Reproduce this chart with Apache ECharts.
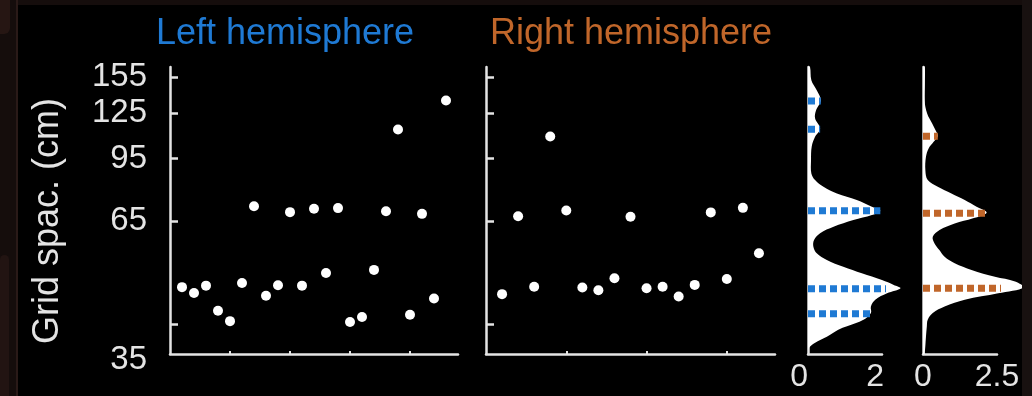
<!DOCTYPE html>
<html><head><meta charset="utf-8">
<script src="https://cdn.jsdelivr.net/npm/echarts@6/dist/echarts.min.js"></script>
<style>html,body{margin:0;padding:0;background:#000;}#c{width:1032px;height:396px;}</style>
</head><body><div id="c"></div>
<script>
// ---- data ----
const leftIndex = [1,2,3,4,5,6,7,8,9,10,11,12,13,14,15,16,17,18,19,20,21,22,23];
const leftSpacing = [43.7,42.2,44.1,37.9,35.6,44.8,71.2,41.5,44.2,68.7,44.1,70.1,47.6,70.4,35.4,36.5,48.5,69.1,113.1,37.0,68.0,40.8,134.7];
const rightIndex = [1,2,3,4,5,6,7,8,9,10,11,12,13,14,15,16,17];
const rightSpacing = [41.9,67.0,43.8,108.4,69.4,43.6,42.9,46.1,66.8,43.4,43.8,41.3,44.3,68.6,45.9,70.5,53.6];

const densLeftSpacing = [29.2,30.3,31.2,32.4,33.8,34.5,35.9,37.4,38.9,40.5,42.1,43.4,44.3,45.6,47.5,49.4,51.5,53.6,55.8,58.1,60.5,62.9,65.5,67.5,69.3,71.0,73.9,76.9,80.1,83.4,86.8,94.0,101.9,108.2,113.8,121.1,127.1,135.0,143.4,152.3,164.9];
const densLeft = [0,0.03,0.2,0.56,0.9,1.16,1.65,1.87,1.87,2.0,2.35,2.75,2.55,2.2,1.6,1.05,0.56,0.26,0.16,0.18,0.36,0.76,1.35,1.9,2.15,1.9,1.45,0.86,0.46,0.21,0.1,0.09,0.11,0.21,0.36,0.21,0.24,0.38,0.26,0.1,0.06];
const densRightSpacing = [29.2,32.4,34.5,35.9,37.4,38.9,40.5,42.1,43.6,45.2,46.5,48.5,50.5,52.5,54.6,56.9,59.2,61.7,64.2,66.2,68.5,71.0,73.9,76.9,80.1,83.4,88.5,95.9,100.9,105.0,108.6,111.5,117.3,124.6,135.0,149.3,164.9];
const densRight = [0.05,0.1,0.13,0.16,0.33,0.73,1.41,2.54,3.4,3.11,2.43,1.64,1.07,0.73,0.56,0.39,0.33,0.56,1.07,1.69,2.15,1.81,1.41,0.96,0.5,0.16,0.08,0.1,0.19,0.36,0.5,0.45,0.31,0.14,0.05,0.06,0.06];

const peaksLeftSpacing = [37.2,43.3,69.3,113.3,134.3];
const peaksLeftDensity = [1.9,2.75,2.15,0.36,0.38];
const peaksRightSpacing = [43.4,68.2,108.6];
const peaksRightDensity = [3.3,2.15,0.5];

const yTickValues = [35,65,95,125,155];
const yTickLabels = ['35','65','95','125','155'];
const yMin = 29.2, yMax = 164.9;
const xTicks = [5,10,15,20];
const densLeftLabels = [0,2];
const densRightLabels = [0,2.5];

const BLUE = '#1f7ad4', BROWN = '#c0662a', AX = '#e4e4e4';
const FONT = 'Liberation Sans, Arial, sans-serif';

const chart = echarts.init(document.getElementById('c'), null, {renderer:'canvas'});

function yAx(gi, showLabels){
  return {
    type:'log', gridIndex:gi, min:yMin, max:yMax, logBase:10,
    axisLine:{show:true, onZero:false, lineStyle:{color:AX, width:2.5}},
    axisTick:{show:gi<2, inside:true, length:8, customValues:yTickValues, lineStyle:{color:AX, width:2.5}},
    axisLabel:{show:showLabels, customValues:[29.35,65,95,125,155], margin:23,
      color:AX, fontSize:33, fontFamily:FONT,
      rich:{lo:{fontSize:33, fontFamily:FONT, color:AX, padding:[14,0,0,0]}},
      formatter:function(v){ if (v < 34) return '{lo|' + yTickLabels[0] + '}'; const i = yTickValues.indexOf(Math.round(v)); return i>=0 ? yTickLabels[i] : ''; }},
    splitLine:{show:false}
  };
}
function xAx(gi, max, ticks, labels){
  return {
    type:'value', gridIndex:gi, min:0, max:max,
    axisLine:{show:true, onZero:false, lineStyle:{color:AX, width:2.5}},
    axisTick:{show:!!ticks, inside:true, length:3, customValues:ticks||[], lineStyle:{color:AX, width:2}},
    axisLabel:{show:!!labels, customValues:labels||[], color:AX, fontSize:32, fontFamily:FONT, margin:7,
      alignMinLabel: gi===2 ? 'right' : 'center',
      formatter:function(v){ return String(v); }},
    splitLine:{show:false}
  };
}
function densitySeries(gi, spacing, dens){
  const data = spacing.map((s,i)=>[dens[i], s]);
  return {
    type:'custom', xAxisIndex:gi, yAxisIndex:gi, data:data, clip:false, z:2, silent:true,
    encode:{x:0, y:1},
    renderItem:function(params, api){
      if (params.dataIndex !== 0) return null;
      const start = api.coord([0, spacing[0]]);
      const pts = [start];
      data.forEach(d => pts.push(api.coord(d)));
      pts.push(api.coord([0, spacing[spacing.length-1]]));
      return {type:'polygon', shape:{points:pts, smooth:0.35, smoothConstraint:[[start[0],0],[3000,3000]]},
        style:{fill:'#ffffff', stroke:null}};
    }
  };
}
function peakSeries(gi, spacing, dens, color){
  return spacing.map((s,i)=>({
    type:'line', xAxisIndex:gi, yAxisIndex:gi, data:[[0,s],[dens[i],s]], symbol:'none', clip:false, z:5, silent:true,
    lineStyle:{color:color, width:7, type:[7,4], cap:'butt'}
  }));
}

const option = {
  backgroundColor:'#000000',
  animation:false,
  grid:[
    {left:170, top:67, width:288, height:287},
    {left:486, top:67, width:289, height:287},
    {left:808, top:67, width:74, height:287},
    {left:923, top:67, width:74, height:287}
  ],
  xAxis:[ xAx(0,24,xTicks,null), xAx(1,18,xTicks,null), xAx(2,2.2,null,densLeftLabels), xAx(3,2.5,null,densRightLabels) ],
  yAxis:[ yAx(0,true), yAx(1,false), yAx(2,false), yAx(3,false) ],
  series:[
    {type:'scatter', xAxisIndex:0, yAxisIndex:0, data:leftIndex.map((x,i)=>[x,leftSpacing[i]]), symbolSize:10, itemStyle:{color:'#ffffff', opacity:1}, z:3},
    {type:'scatter', xAxisIndex:1, yAxisIndex:1, data:rightIndex.map((x,i)=>[x,rightSpacing[i]]), symbolSize:10, itemStyle:{color:'#ffffff', opacity:1}, z:3},
    densitySeries(2, densLeftSpacing, densLeft),
    densitySeries(3, densRightSpacing, densRight)
  ].concat(peakSeries(2, peaksLeftSpacing, peaksLeftDensity, BLUE))
   .concat(peakSeries(3, peaksRightSpacing, peaksRightDensity, BROWN)),
  graphic:[
    {type:'text', z:50, x:285, y:34, style:{text:'Left hemisphere', fill:BLUE, font:'36px '+FONT, textAlign:'center', textVerticalAlign:'middle'}},
    {type:'text', z:50, x:631, y:34, style:{text:'Right hemisphere', fill:BROWN, font:'36px '+FONT, textAlign:'center', textVerticalAlign:'middle'}},
    {type:'text', z:50, x:48, y:221, rotation:Math.PI/2, style:{text:'Grid spac. (cm)', fill:AX, font:'36px '+FONT, textAlign:'center', textVerticalAlign:'middle'}},
    {type:'rect', z:100, shape:{x:0, y:0, width:17, height:396}, style:{fill:'#150d0c'}},
    {type:'rect', z:100, shape:{x:0, y:0, width:1032, height:5}, style:{fill:'#150d0c'}},
    {type:'rect', z:100, shape:{x:1022, y:0, width:10, height:396}, style:{fill:'#181110'}},
    {type:'rect', z:101, shape:{x:16, y:0, width:2, height:396}, style:{fill:'#2a1a18'}},
    {type:'rect', z:101, shape:{x:0, y:0, width:10, height:34, r:[0,0,6,0]}, style:{fill:'#261613'}},
    {type:'rect', z:101, shape:{x:0, y:255, width:9, height:141, r:[6,6,0,0]}, style:{fill:'#221412'}}
  ]
};
chart.setOption(option);
</script>
</body></html>
